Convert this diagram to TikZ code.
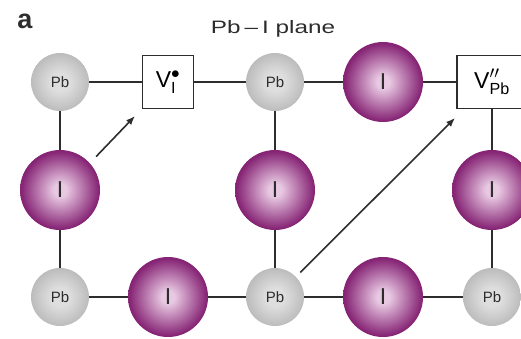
\documentclass[tikz,border=0pt]{standalone}
\usepackage{fontspec}
\setmainfont{Liberation Sans}
\usepackage{amsmath}
\usepackage{graphicx}
\usetikzlibrary{arrows.meta}
\definecolor{pbLight}{RGB}{222,222,222}
\definecolor{pbDark}{RGB}{138,138,138}
\definecolor{iLight}{RGB}{232,200,226}
\definecolor{iMid}{RGB}{135,38,118}
\definecolor{iDark}{RGB}{88,8,76}
\definecolor{bondGray}{RGB}{45,45,45}
\pgfdeclareradialshading{pbBall}{\pgfpoint{0bp}{0bp}}{color(0bp)=(pbLight); color(8bp)=(pbLight); color(50bp)=(pbDark)}
\pgfdeclareradialshading{iBall}{\pgfpoint{0bp}{0bp}}{color(0bp)=(iLight); color(4bp)=(iLight); color(24bp)=(iMid); color(46bp)=(iDark); color(50bp)=(iMid)}
\newcommand{\planeWide}[1]{\scalebox{1.35}[1]{#1}}
\newcommand{\vacI}{$\text{V}^{\bullet}_{\text{I}}$}
\newcommand{\vacPb}{$\text{V}^{\prime\prime}_{\text{Pb}}$}

\begin{document}
\begin{tikzpicture}[x=1pt,y=-1pt,
  pb/.style={circle, minimum size=58pt, inner sep=0pt, shading=pbBall, text=bondGray, font=\fontsize{15}{15}\selectfont},
  iod/.style={circle, minimum size=80pt, inner sep=0pt, shading=iBall, text=bondGray, font=\fontsize{23}{23}\selectfont},
  vac/.style={draw=bondGray, line width=1.3pt, fill=white, inner sep=0pt, minimum height=53pt, font=\fontsize{23}{23}\selectfont},
  bond/.style={draw=bondGray, line width=1.6pt},
  hop/.style={bond, -{Latex[length=9pt,width=7pt]}}]
\useasboundingbox (0,0) rectangle (521,338);
\node[font=\fontsize{27}{27}\bfseries\selectfont, text=bondGray] (lblA) at (25,21) {a};
\node[font=\fontsize{18}{18}\selectfont, text=bondGray] (lblPlane) at (273,29) {\planeWide{Pb\,--\,I plane}};
\node[pb] (pbTL) at (60,82) {Pb};
\node[vac, minimum width=51pt] (vacI) at (168,82) {\vacI};
\node[pb] (pbTM) at (275,82) {Pb};
\node[iod] (iT) at (383,82) {I};
\node[vac, minimum width=70pt] (vacPb) at (492,82) {\vacPb};
\node[iod] (iML) at (60,190) {I};
\node[iod] (iMM) at (275,190) {I};
\node[iod] (iMR) at (492,190) {I};
\node[pb] (pbBL) at (60,297) {Pb};
\node[iod] (iBL) at (168,297) {I};
\node[pb] (pbBM) at (275,297) {Pb};
\node[iod] (iBR) at (383,297) {I};
\node[pb] (pbBR) at (492,297) {Pb};
\coordinate (tipI) at (135,116);
\coordinate (tipPb) at (455,118);
\draw[bond] (pbTL) -- (vacI);
\draw[bond] (vacI) -- (pbTM);
\draw[bond] (pbTM) -- (iT);
\draw[bond] (iT) -- (vacPb);
\draw[bond] (pbTL) -- (iML);
\draw[bond] (iML) -- (pbBL);
\draw[bond] (pbTM) -- (iMM);
\draw[bond] (iMM) -- (pbBM);
\draw[bond] (vacPb) -- (iMR);
\draw[bond] (iMR) -- (pbBR);
\draw[bond] (pbBL) -- (iBL);
\draw[bond] (iBL) -- (pbBM);
\draw[bond] (pbBM) -- (iBR);
\draw[bond] (iBR) -- (pbBR);
\draw[hop, shorten <=9pt] (iML.42) -- (tipI);
\draw[hop, shorten <=6pt] (pbBM.44) -- (tipPb);
\end{tikzpicture}
\end{document}
